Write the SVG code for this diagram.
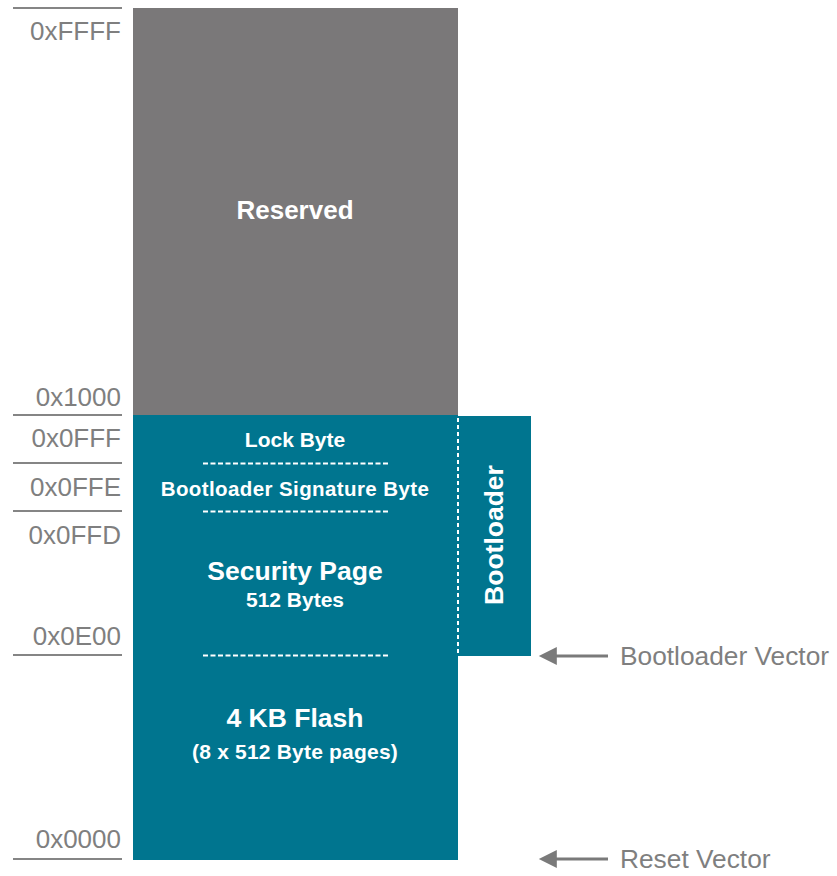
<svg xmlns="http://www.w3.org/2000/svg" width="837" height="876" viewBox="0 0 837 876">
  <defs>
    <style>
      .addr { font-family: "Liberation Sans", Arial, sans-serif; font-size: 26px; fill: #7f7f7f; text-anchor: end; }
      .tick { stroke: #858585; stroke-width: 2; }
      .wb { font-family: "Liberation Sans", Arial, sans-serif; font-weight: bold; fill: #ffffff; text-anchor: middle; }
      .dash { stroke: #ffffff; stroke-width: 2; stroke-dasharray: 5 2.5; fill: none; }
      .vec { font-family: "Liberation Sans", Arial, sans-serif; font-size: 26.3px; fill: #7f7f7f; }
      .arrow { stroke: #7a7a7a; stroke-width: 3; fill: none; }
    </style>
    <marker id="ah" viewBox="0 0 10 10" refX="1" refY="5" markerWidth="7" markerHeight="6" markerUnits="strokeWidth" orient="auto-start-reverse">
      <path d="M0,0 L10,5 L0,10 z" fill="#7a7a7a"/>
    </marker>
  </defs>

  <g id="reserved">
    <rect x="133" y="8" width="325" height="407" fill="#7a7879"/>
    <text class="wb" x="295" y="219" font-size="26">Reserved</text>
  </g>

  <g id="flash">
    <rect x="133" y="415" width="325" height="445" fill="#00758f"/>
    <text class="wb" x="295" y="447" font-size="21">Lock Byte</text>
    <text class="wb" x="295" y="496" font-size="20.5" letter-spacing="0.4">Bootloader Signature Byte</text>
    <text class="wb" x="295" y="580" font-size="26.5">Security Page</text>
    <text class="wb" x="295" y="607" font-size="21">512 Bytes</text>
    <text class="wb" x="295" y="727" font-size="26.5">4 KB Flash</text>
    <text class="wb" x="295" y="759" font-size="21" letter-spacing="0.2">(8 x 512 Byte pages)</text>
    <line class="dash" x1="203" y1="463.5" x2="390" y2="463.5"/>
    <line class="dash" x1="203" y1="511.5" x2="390" y2="511.5"/>
    <line class="dash" x1="203" y1="655.5" x2="390" y2="655.5"/>
  </g>

  <g id="bootloader">
    <rect x="458" y="416" width="73" height="240" fill="#00758f"/>
    <line x1="458" y1="418" x2="458" y2="656" stroke="#ffffff" stroke-width="2" stroke-dasharray="4 3"/>
    <text class="wb" x="0" y="0" font-size="26.5" transform="translate(503,535) rotate(-90)">Bootloader</text>
  </g>

  <g id="addresses">
    <line class="tick" x1="13" y1="8" x2="122" y2="8"/>
    <line class="tick" x1="13" y1="415" x2="122" y2="415"/>
    <line class="tick" x1="13" y1="463" x2="122" y2="463"/>
    <line class="tick" x1="13" y1="511" x2="122" y2="511"/>
    <line class="tick" x1="13" y1="655" x2="122" y2="655"/>
    <line class="tick" x1="13" y1="859" x2="122" y2="859"/>
    <text class="addr" x="121" y="40">0xFFFF</text>
    <text class="addr" x="121" y="406">0x1000</text>
    <text class="addr" x="121" y="447">0x0FFF</text>
    <text class="addr" x="121" y="496">0x0FFE</text>
    <text class="addr" x="121" y="544">0x0FFD</text>
    <text class="addr" x="121" y="645">0x0E00</text>
    <text class="addr" x="121" y="848">0x0000</text>
  </g>

  <g id="connectors">
    <line class="arrow" x1="608" y1="656" x2="555" y2="656" marker-end="url(#ah)"/>
    <line class="arrow" x1="608" y1="859" x2="555" y2="859" marker-end="url(#ah)"/>
  </g>

  <g id="vectors">
    <text class="vec" x="620" y="665">Bootloader Vector</text>
    <text class="vec" x="620" y="868">Reset Vector</text>
  </g>
</svg>
